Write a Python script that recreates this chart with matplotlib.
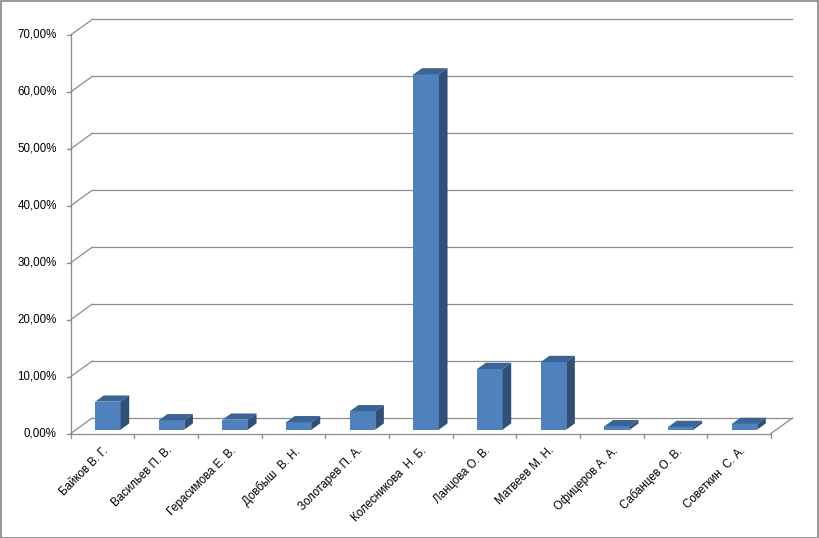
import matplotlib
matplotlib.use("Agg")
import matplotlib.pyplot as plt
from matplotlib.patches import Polygon, Rectangle

names = ["Байков В. Г.", "Васильев П. В.", "Герасимова Е. В.", "Довбыш  В. Н.",
         "Золотарев П. А.", "Колесникова  Н. Б.", "Ланцова О. В.", "Матвеев М. Н.",
         "Офицеров А. А.", "Сабанцев О. В.", "Советкин  С. А."]
shares = [4.91, 1.65, 1.75, 1.30, 3.23, 62.4, 10.65, 11.88, 0.60, 0.47, 1.00]
yticks = [0, 10, 20, 30, 40, 50, 60, 70]

plt.rcParams['font.family'] = ['Liberation Sans', 'DejaVu Sans']

W, H = 819, 538
fig = plt.figure(figsize=(W / 100, H / 100), dpi=100)
ax = fig.add_axes([0, 0, 1, 1])
ax.axis("off")

# pixel -> data mapping (front plane)
px_cat = 63.66
px_pct = 5.693
x0_px, y0_px = 70.7, 433.5
ax.set_xlim(-0.5 - x0_px / px_cat, -0.5 + (W - x0_px) / px_cat)
ax.set_ylim(-(H - y0_px) / px_pct, y0_px / px_pct)

DX = 21.5 / px_cat   # depth offset
DY = 15.5 / px_pct
n = len(names)
grid = "#8c8c8c"
lw = 0.9
left, right = -0.5, n - 0.5
fs = 8.3

# back wall gridlines + side diagonals
for v in yticks:
    ax.plot([left + DX, right + DX], [v + DY, v + DY], color=grid, lw=lw, zorder=1)
    ax.plot([left, left + DX], [v, v + DY], color=grid, lw=lw, zorder=1)
    ax.plot([left - 4 / px_cat, left], [v, v], color=grid, lw=lw, zorder=1)
    ax.text(left - 14 / px_cat, v, f"{v},00%", ha="right", va="center", fontsize=fs)
ax.plot([right, right + DX], [0, DY], color=grid, lw=lw, zorder=1)
ax.plot([left, left], [0, 70], color=grid, lw=lw, zorder=1)
ax.plot([left, right], [0, 0], color=grid, lw=lw, zorder=1)
for i in range(n + 1):
    ax.plot([left + i, left + i], [0, -4 / px_pct], color=grid, lw=lw, zorder=1)

# 3D-looking bars
f0, f1 = 0.25, 0.65
bw = 0.4
front, top, side = "#4F81BD", "#3B6496", "#2F5078"
xs = list(range(n))
fx = [x - bw / 2 + f0 * DX for x in xs]
ax.bar(fx, shares, width=bw, bottom=f0 * DY, align="edge", color=front,
       edgecolor="none", zorder=3)
for x, v in zip(fx, shares):
    b, t = f0 * DY, f0 * DY + v
    ddx, ddy = (f1 - f0) * DX, (f1 - f0) * DY
    ax.add_patch(Polygon([(x, t), (x + bw, t), (x + bw + ddx, t + ddy), (x + ddx, t + ddy)],
                         closed=True, facecolor=top, edgecolor="none", zorder=3))
    ax.add_patch(Polygon([(x + bw, b), (x + bw + ddx, b + ddy), (x + bw + ddx, t + ddy), (x + bw, t)],
                         closed=True, facecolor=side, edgecolor="none", zorder=3))

# category labels
for x, name in zip(xs, names):
    ax.text(x + 0.0, -11 / px_pct, name, rotation=45, rotation_mode="anchor",
            ha="right", va="top", fontsize=fs)

fig.add_artist(Rectangle((0.5 / W, 0.5 / H), 1 - 1.5 / W, 1 - 1.5 / H, transform=fig.transFigure,
                         fill=False, edgecolor="#868686", lw=1.2))

fig.savefig("out.png", dpi=100)
